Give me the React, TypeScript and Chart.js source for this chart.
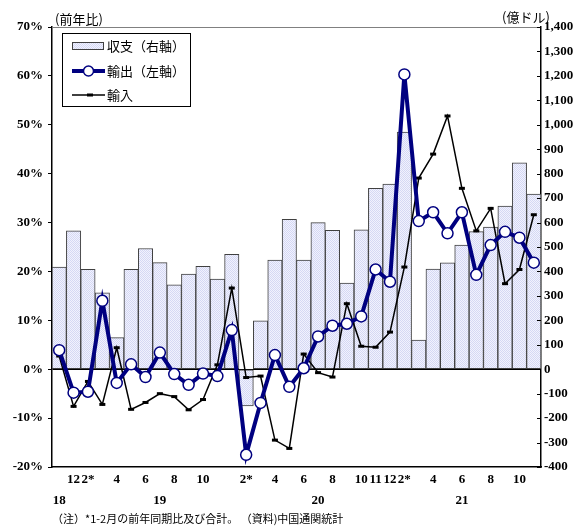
import React, { useEffect, useRef } from "react";
import { Chart, registerables } from "chart.js";

Chart.register(...registerables);

const categories = [
  "2018/11", "2018/12",
  "2019/1-2", "2019/3", "2019/4", "2019/5", "2019/6", "2019/7", "2019/8", "2019/9", "2019/10", "2019/11", "2019/12",
  "2020/1-2", "2020/3", "2020/4", "2020/5", "2020/6", "2020/7", "2020/8", "2020/9", "2020/10", "2020/11", "2020/12",
  "2021/1-2", "2021/3", "2021/4", "2021/5", "2021/6", "2021/7", "2021/8", "2021/9", "2021/10", "2021/11",
];

const monthLabels = [
  "", "12",
  "2*", "", "4", "", "6", "", "8", "", "10", "", "",
  "2*", "", "4", "", "6", "", "8", "", "10", "11", "12",
  "2*", "", "4", "", "6", "", "8", "", "10", "",
];

const yearLabels = [
  "18", "",
  "", "", "", "", "", "19", "", "", "", "", "",
  "", "", "", "", "", "20", "", "", "", "", "",
  "", "", "", "", "21", "", "", "", "", "",
];

// 収支 (億ドル, right axis)
const balance = [
  418, 566,
  409, 313, 129, 409, 494, 436, 345, 389, 421, 369, 470,
  -150, 198, 447, 613, 447, 600, 568, 352, 570, 740, 757,
  970, 119, 410, 435, 508, 563, 582, 667, 844, 717,
];

// 輸出 前年比 (%, left axis)
const exportsYoY = [
  3.9, -4.8,
  -4.6, 14.0, -2.8, 1.0, -1.6, 3.4, -1.0, -3.2, -0.9, -1.4, 8.0,
  -17.5, -6.9, 2.9, -3.6, 0.2, 6.7, 8.9, 9.3, 10.8, 20.4, 17.9,
  60.3, 30.3, 32.1, 27.8, 32.1, 19.3, 25.4, 28.1, 26.9, 21.8,
];

// 輸入 前年比 (%, left axis)
const importsYoY = [
  2.7, -7.6,
  -2.5, -7.2, 4.4, -8.2, -6.8, -5.0, -5.6, -8.3, -6.2, 0.9, 16.6,
  -1.7, -1.4, -14.5, -16.2, 3.1, -0.7, -1.6, 13.4, 4.7, 4.5, 7.6,
  20.9, 39.1, 44.0, 51.8, 37.0, 28.3, 32.9, 17.5, 20.4, 31.6,
];

const leftAxis = { min: -20, max: 70, step: 10 };
const rightAxis = { min: -400, max: 1400, step: 100 };

const seriesNames = ["収支（右軸）", "輸出（左軸）", "輸入"];
const leftTitle = "(前年比)";
const rightTitle = "(億ドル)";
const noteText = "（注）*1-2月の前年同期比及び合計。 （資料)中国通関統計";

const SERIF = "'Liberation Serif', 'DejaVu Serif', serif";
const CJK = "'Noto Sans CJK JP', 'Noto Sans', sans-serif";
const NAVY = "#000080";

export default function App() {
  const ref = useRef<HTMLCanvasElement>(null);

  useEffect(() => {
    const canvas = ref.current;
    if (!canvas) return;
    const pc = document.createElement("canvas");
    pc.width = 2;
    pc.height = 2;
    const pctx = pc.getContext("2d")!;
    pctx.fillStyle = "#f1f2fd";
    pctx.fillRect(0, 0, 2, 2);
    pctx.fillStyle = "#d5d8f4";
    pctx.fillRect(0, 0, 1, 1);
    pctx.fillRect(1, 1, 1, 1);
    const pattern = canvas.getContext("2d")!.createPattern(pc, "repeat")!;

    const overlay = {
      id: "overlay",
      afterDraw(chart: any) {
        const { ctx, chartArea: a, scales } = chart;
        ctx.save();
        // top frame line
        ctx.strokeStyle = "#808080";
        ctx.lineWidth = 1;
        ctx.beginPath();
        ctx.moveTo(a.left, Math.round(a.top) + 0.5);
        ctx.lineTo(a.right, Math.round(a.top) + 0.5);
        ctx.stroke();
        // inward ticks on right axis
        const y1 = scales.y1;
        ctx.strokeStyle = "#000";
        y1.ticks.forEach((t: any) => {
          const y = Math.round(y1.getPixelForValue(t.value)) + 0.5;
          ctx.beginPath();
          ctx.moveTo(a.right - 4, y);
          ctx.lineTo(a.right, y);
          ctx.stroke();
        });
        // axis titles
        ctx.fillStyle = "#000";
        ctx.font = `13px ${CJK}`;
        ctx.textBaseline = "middle";
        ctx.textAlign = "left";
        ctx.fillText(leftTitle, 55, 19);
        ctx.textAlign = "center";
        ctx.fillText(rightTitle, 526, 17);

        // legend
        const lx = 62.5, ly = 33.5, lw = 128, lh = 73;
        ctx.fillStyle = "#fff";
        ctx.fillRect(lx, ly, lw, lh);
        ctx.strokeStyle = "#000";
        ctx.lineWidth = 1;
        ctx.strokeRect(lx, ly, lw, lh);
        const rows = [46, 71, 95];
        // bar swatch
        ctx.fillStyle = pattern;
        ctx.fillRect(72.5, 42.5, 31, 7);
        ctx.strokeStyle = "#404040";
        ctx.strokeRect(72.5, 42.5, 31, 7);
        // export swatch
        ctx.strokeStyle = NAVY;
        ctx.lineWidth = 4;
        ctx.beginPath();
        ctx.moveTo(72, rows[1]);
        ctx.lineTo(105, rows[1]);
        ctx.stroke();
        ctx.beginPath();
        ctx.arc(88.5, rows[1], 5, 0, Math.PI * 2);
        ctx.fillStyle = "#fff";
        ctx.fill();
        ctx.lineWidth = 1.5;
        ctx.stroke();
        // import swatch
        ctx.strokeStyle = "#000";
        ctx.lineWidth = 1.5;
        ctx.beginPath();
        ctx.moveTo(72, rows[2]);
        ctx.lineTo(105, rows[2]);
        ctx.stroke();
        ctx.fillStyle = "#000";
        ctx.fillRect(87, rows[2] - 1.5, 6, 3);
        // legend texts
        ctx.fillStyle = "#000";
        ctx.font = `13px ${CJK}`;
        ctx.textAlign = "left";
        ctx.textBaseline = "middle";
        rows.forEach((y, i) => ctx.fillText(seriesNames[i], 107, y));

        // note
        ctx.font = `11px ${CJK}`;
        ctx.fillText(noteText, 52, 519);
        ctx.restore();
      },
    };

    const tickFont = { family: SERIF, size: 13, weight: "bold" as const };

    const chart = new Chart(canvas, {
      type: "bar",
      data: {
        labels: categories,
        datasets: [
          {
            type: "line",
            label: seriesNames[1],
            data: exportsYoY,
            yAxisID: "y",
            borderColor: NAVY,
            borderWidth: 4,
            pointRadius: 5.5,
            pointBackgroundColor: "#fff",
            pointBorderColor: NAVY,
            pointBorderWidth: 1.5,
            tension: 0,
            order: 0,
          } as any,
          {
            type: "line",
            label: seriesNames[2],
            data: importsYoY,
            yAxisID: "y",
            borderColor: "#000",
            borderWidth: 1.5,
            pointStyle: "line",
            pointRadius: 3,
            pointBorderWidth: 3,
            pointBorderColor: "#000",
            tension: 0,
            order: 1,
          } as any,
          {
            type: "bar",
            label: seriesNames[0],
            data: balance,
            yAxisID: "y1",
            backgroundColor: pattern,
            borderColor: "#404040",
            borderWidth: 1,
            borderSkipped: false,
            categoryPercentage: 1,
            barPercentage: 1,
            order: 2,
          } as any,
        ],
      },
      options: {
        responsive: false,
        animation: false,
        layout: { padding: { top: 27, left: 0, right: 0, bottom: 0 } },
        plugins: { legend: { display: false }, tooltip: { enabled: false } },
        scales: {
          x: {
            offset: true,
            grid: { display: false, drawTicks: false },
            border: { display: true, color: "#000", width: 1.5 },
            ticks: {
              autoSkip: false,
              maxRotation: 0,
              minRotation: 0,
              padding: 3,
              color: "#000",
              font: { ...tickFont, lineHeight: 1.55 },
              callback: (_v: any, i: number) => [monthLabels[i], yearLabels[i]],
            },
            afterFit: (s: any) => {
              s.height = 59;
            },
          },
          y: {
            position: "left",
            min: leftAxis.min,
            max: leftAxis.max,
            ticks: {
              stepSize: leftAxis.step,
              color: "#000",
              font: tickFont,
              padding: 5,
              callback: (v: any) => `${v}%`,
            },
            grid: {
              drawOnChartArea: true,
              drawTicks: true,
              tickLength: 4,
              tickColor: "#000",
              lineWidth: 1,
              color: (c: any) => (c.tick && c.tick.value === 0 ? "#000" : "rgba(0,0,0,0)"),
            },
            border: { display: true, color: "#000", width: 1.5 },
            afterFit: (s: any) => {
              s.width = 52;
            },
          },
          y1: {
            position: "right",
            min: rightAxis.min,
            max: rightAxis.max,
            ticks: {
              stepSize: rightAxis.step,
              color: "#000",
              font: tickFont,
              padding: 3,
              callback: (v: any) => Number(v).toLocaleString("en-US"),
            },
            grid: { drawOnChartArea: false, drawTicks: false },
            border: { display: true, color: "#000", width: 1.5 },
            afterFit: (s: any) => {
              s.width = 46;
            },
          },
        },
      },
      plugins: [overlay],
    });

    return () => chart.destroy();
  }, []);

  return (
    <div style={{ position: "absolute", left: 0, top: 0, width: 587, height: 526, background: "#fff" }}>
      <canvas ref={ref} width={587} height={526} style={{ display: "block" }} />
    </div>
  );
}
